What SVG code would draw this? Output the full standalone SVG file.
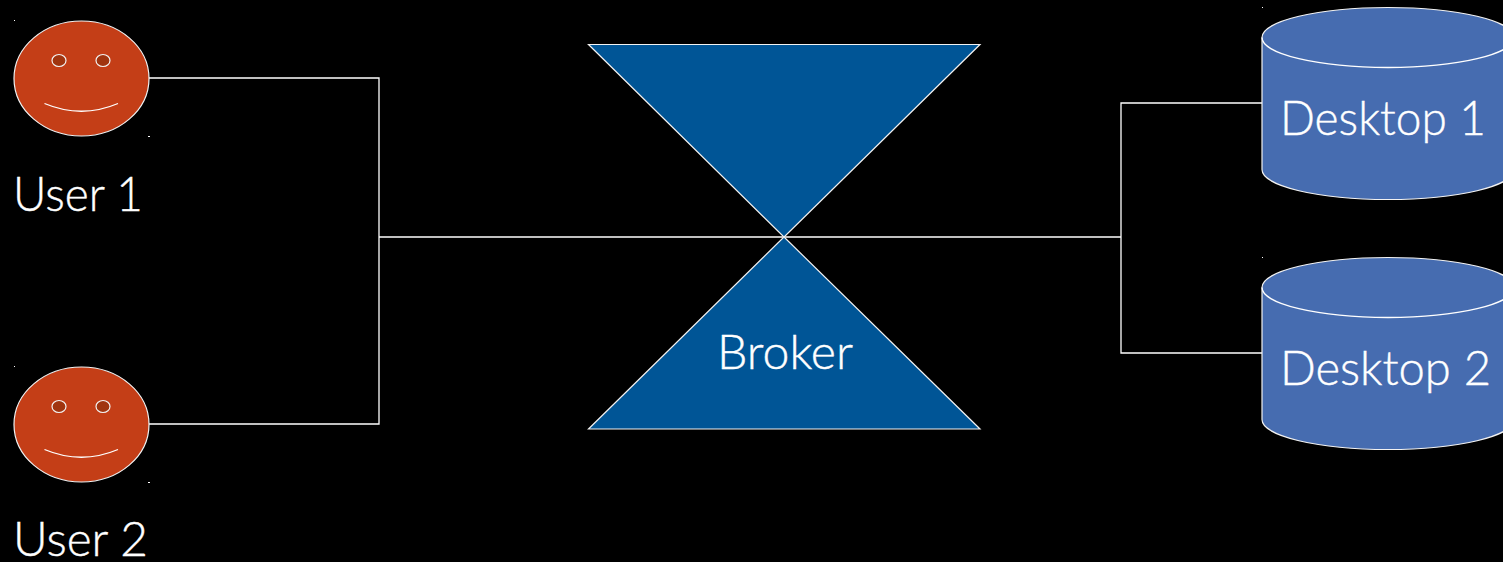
<svg xmlns="http://www.w3.org/2000/svg" width="1503" height="562" viewBox="0 0 1503 562">
<style>
.ln{fill:none;stroke:#fff;stroke-width:1.300}
.face{fill:#c43e17;stroke:#f2f2f2;stroke-width:1.200}
.eye{fill:#a0340f;stroke:#f2f2f2;stroke-width:1.200}
.tri{fill:#005596;stroke:#f2f2f2;stroke-width:1.200}
.cyl{fill:#466cb0;stroke:#f2f2f2;stroke-width:1.200}
.t{font-family:"Lato","Open Sans",sans-serif;font-weight:300;font-size:47px;fill:#fff;stroke:#fff;stroke-width:.4}
.dot{fill:#fff}
</style>
<rect width="1503" height="562" fill="#000"/>
<g id="connectors">
<path class="ln" d="M149 78H379V424H149"/>
<path class="ln" d="M379 237H1121"/>
<path class="ln" d="M1262 103H1121V353H1262"/>
</g>
<g id="user1">
<ellipse class="face" cx="81.500" cy="78.500" rx="67.500" ry="57.500"/>
<ellipse class="eye" cx="59" cy="60.500" rx="7" ry="6"/>
<ellipse class="eye" cx="103" cy="60.500" rx="7" ry="6"/>
<path class="ln" d="M44.500 103.500Q81.500 119 118 103.500"/>
<rect class="dot" x="14" y="20" width="1" height="1"/>
<rect class="dot" x="148" y="136" width="2" height="1"/>
<text class="t" x="13" y="211" textLength="130" lengthAdjust="spacingAndGlyphs">User 1</text>
</g>
<g id="user2">
<ellipse class="face" cx="81.500" cy="424.500" rx="67.500" ry="57.500"/>
<ellipse class="eye" cx="59" cy="406.500" rx="7" ry="6"/>
<ellipse class="eye" cx="103" cy="406.500" rx="7" ry="6"/>
<path class="ln" d="M44.500 449.500Q81.500 465 118 449.500"/>
<rect class="dot" x="14" y="366" width="1" height="1"/>
<rect class="dot" x="148" y="482" width="2" height="1"/>
<text class="t" x="13" y="556" textLength="135" lengthAdjust="spacingAndGlyphs">User 2</text>
</g>
<g id="broker">
<path class="tri" d="M588.500 44.500H980L784 237L980 429H588.500L784 237Z"/>
<text class="t" x="717" y="369" textLength="136" lengthAdjust="spacingAndGlyphs">Broker</text>
</g>
<g id="desktop1">
<path class="cyl" d="M1262 37.500A126 30 0 0 1 1514 37.500V169.500A126 30 0 0 1 1262 169.500Z"/>
<path class="ln" d="M1262 37.500A126 30 0 0 0 1514 37.500"/>
<rect class="dot" x="1262" y="7" width="1" height="1"/>
<text class="t" x="1280" y="135" textLength="206" lengthAdjust="spacingAndGlyphs">Desktop 1</text>
</g>
<g id="desktop2">
<path class="cyl" d="M1262 287.500A126 30 0 0 1 1514 287.500V419.500A126 30 0 0 1 1262 419.500Z"/>
<path class="ln" d="M1262 287.500A126 30 0 0 0 1514 287.500"/>
<rect class="dot" x="1262" y="257" width="1" height="1"/>
<text class="t" x="1280" y="385" textLength="211" lengthAdjust="spacingAndGlyphs">Desktop 2</text>
</g>
</svg>
